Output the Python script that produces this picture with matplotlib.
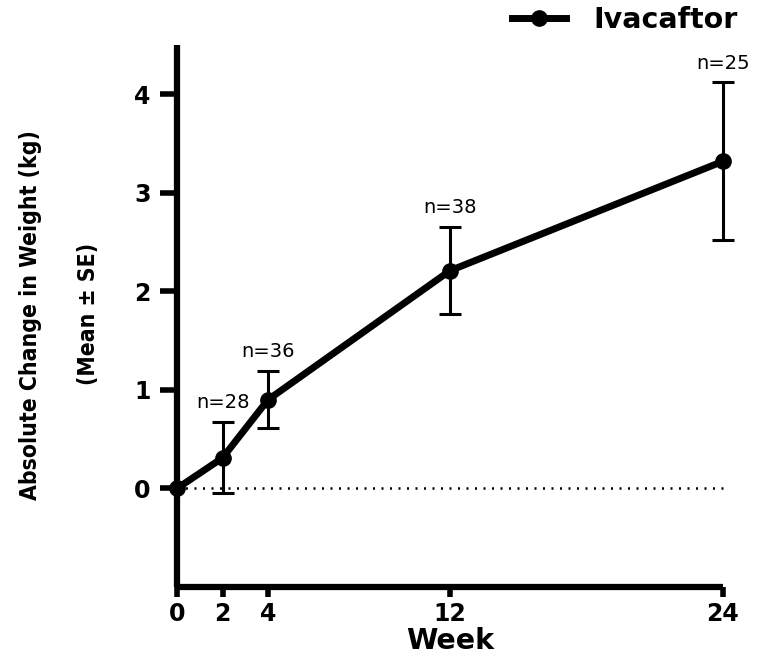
import matplotlib
matplotlib.use("Agg")
import matplotlib.pyplot as plt
from matplotlib.lines import Line2D

weeks = [0, 2, 4, 12, 24]
mean_change = [0.0, 0.31, 0.90, 2.21, 3.32]
se = [0.0, 0.36, 0.29, 0.44, 0.80]
n_labels = ["", "n=28", "n=36", "n=38", "n=25"]
x_ticks = [0, 2, 4, 12, 24]
y_ticks = [0, 1, 2, 3, 4]

W, H = 763, 655
fig = plt.figure(figsize=(W / 100, H / 100), dpi=100)
ax = fig.add_axes([177 / W, 1 - 587 / H, (723 - 177) / W, (587 - 45) / H])

ax.set_xlim(0, 24)
ax.set_ylim(-1.0, 4.5)

# zero reference line
ax.plot([0, 24], [0, 0], color="black", lw=1.8, linestyle=(0, (0.8, 2.6)),
        zorder=1, clip_on=False)

# error bars
eb = ax.errorbar(weeks[1:], mean_change[1:], yerr=se[1:], fmt="none", ecolor="black",
                 elinewidth=2.2, capsize=8, capthick=2.2, zorder=2)
for art in eb.lines[1]:
    art.set_clip_on(False)
for art in eb.lines[2]:
    art.set_clip_on(False)

# main line
ax.plot(weeks, mean_change, color="black", lw=5, marker="o", markersize=11,
        zorder=3, clip_on=False, label="Ivacaftor")

# n labels
for x, m, s, t in zip(weeks, mean_change, se, n_labels):
    if t:
        ax.annotate(t, (x, m + s), xytext=(0, 14), textcoords="offset points",
                    ha="center", va="center", fontsize=14, family="DejaVu Sans")

for side in ["top", "right"]:
    ax.spines[side].set_visible(False)
for side in ["left", "bottom"]:
    ax.spines[side].set_linewidth(4.5)
    ax.spines[side].set_capstyle("butt")

ax.set_xticks(x_ticks)
ax.set_yticks(y_ticks)
ax.tick_params(axis="y", length=12, width=4, pad=7)
ax.tick_params(axis="x", length=7, width=4, pad=4)
for lab in ax.get_xticklabels() + ax.get_yticklabels():
    lab.set_fontfamily("DejaVu Sans")
    lab.set_fontweight("bold")
    lab.set_fontsize(17)

fig.text(450 / W, 1 - 641 / H, "Week", ha="center", va="center",
         fontsize=20.5, fontweight="bold", family="DejaVu Sans")

fig.text(31 / W, 1 - 315 / H, "Absolute Change in Weight (kg)", rotation=90,
         ha="center", va="center", fontsize=16.5, fontweight="bold",
         family="DejaVu Sans", fontstretch="condensed")
fig.text(89 / W, 1 - 314 / H, "(Mean \u00b1 SE)", rotation=90,
         ha="center", va="center", fontsize=16.5, fontweight="bold",
         family="DejaVu Sans", fontstretch="condensed")

handle = Line2D([], [], color="black", lw=5, marker="o", markersize=11)
fig.legend([handle], ["Ivacaftor"], loc="center left",
           bbox_to_anchor=(512 / W, 1 - 20 / H), frameon=False,
           borderpad=0, borderaxespad=0, handlelength=1.9, handletextpad=0.95,
           prop={"family": "DejaVu Sans", "weight": "bold", "size": 20.5})

fig.savefig("out.png", dpi=100)
